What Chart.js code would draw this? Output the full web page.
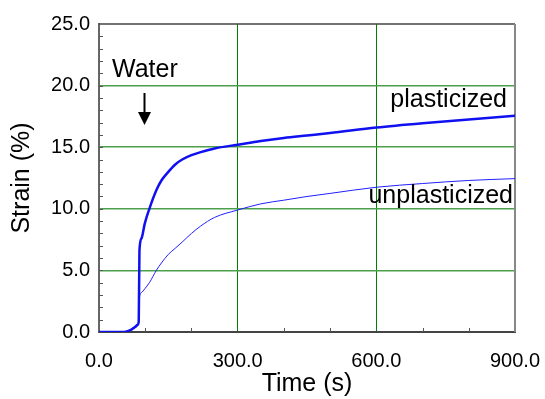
<!DOCTYPE html>
<html>
<head>
<meta charset="utf-8">
<script src="https://cdn.jsdelivr.net/npm/chart.js@4"></script>
<style>
  html, body { margin: 0; padding: 0; background: #fff; }
  #wrap { width: 545px; height: 399px; }
</style>
</head>
<body>
<div id="wrap"><canvas id="c" width="545" height="399"></canvas></div>
<script>
// time (s)
const time = [0, 30, 50, 60, 70, 78, 84, 86, 87.5, 92, 99, 109, 124, 135, 150, 165, 180, 200, 220, 250, 300, 350, 400, 450, 500, 600, 700, 800, 900];
// strain (%)
const plasticized = [0, 0, 0, 0.05, 0.2, 0.4, 0.6, 0.9, 6.6, 7.6, 8.8, 10.0, 11.5, 12.3, 13.0, 13.6, 14.0, 14.35, 14.6, 14.9, 15.2, 15.5, 15.75, 15.95, 16.15, 16.6, 16.95, 17.25, 17.55];
const unplasticized = [0, 0, 0, 0.05, 0.2, 0.4, 0.6, 0.9, 2.8, 3.2, 3.5, 4.0, 5.0, 5.6, 6.3, 6.8, 7.3, 8.0, 8.6, 9.3, 9.9, 10.4, 10.7, 11.0, 11.25, 11.75, 12.05, 12.3, 12.45];

const FONT = "Arial, 'Liberation Sans', sans-serif";

function pts(ys) {
    return time.map((t, i) => ({ x: t, y: ys[i] }));
}

// frame, minor ticks and labels
const extras = {
    id: "extras",
    beforeDatasetsDraw(chart) {
        const ctx = chart.ctx;
        const a = chart.chartArea;
        const xs = chart.scales.x, ys = chart.scales.y;
        ctx.save();
        ctx.strokeStyle = "#555";
        ctx.lineWidth = 1;
        for (let v = 1; v < 25; v++) {
            const y = Math.round(ys.getPixelForValue(v)) + 0.5;
            ctx.beginPath();
            ctx.moveTo(a.left, y);
            ctx.lineTo(a.left + 4, y);
            ctx.stroke();
        }
        for (let v = 100; v < 900; v += 100) {
            if (v % 300 === 0) continue;
            const x = Math.round(xs.getPixelForValue(v)) + 0.5;
            ctx.beginPath();
            ctx.moveTo(x, a.bottom);
            ctx.lineTo(x, a.bottom - 4);
            ctx.stroke();
        }
        // top and right border
        ctx.strokeStyle = "#444";
        ctx.lineWidth = 1.5;
        ctx.beginPath();
        ctx.moveTo(a.left, a.top);
        ctx.lineTo(a.right, a.top);
        ctx.stroke();
        ctx.strokeStyle = "#888";
        ctx.lineWidth = 2;
        ctx.beginPath();
        ctx.moveTo(a.right, a.top);
        ctx.lineTo(a.right, a.bottom);
        ctx.stroke();
        ctx.restore();
    },
    afterDatasetsDraw(chart) {
        const ctx = chart.ctx;
        ctx.save();
        ctx.fillStyle = "#000";
        ctx.font = "25px " + FONT;
        ctx.textBaseline = "alphabetic";
        ctx.textAlign = "left";
        ctx.fillText("Water", 112, 77);
        ctx.textAlign = "right";
        ctx.fillText("plasticized", 507, 107);
        ctx.fillText("unplasticized", 513, 203);
        // arrow
        ctx.strokeStyle = "#000";
        ctx.lineWidth = 2;
        ctx.beginPath();
        ctx.moveTo(144.5, 93);
        ctx.lineTo(144.5, 114);
        ctx.stroke();
        ctx.beginPath();
        ctx.moveTo(138, 112);
        ctx.lineTo(151, 112);
        ctx.lineTo(144.5, 125);
        ctx.closePath();
        ctx.fill();
        ctx.restore();
    }
};

new Chart(document.getElementById("c"), {
    type: "line",
    data: {
        datasets: [
            {
                label: "plasticized",
                data: pts(plasticized),
                borderColor: "#1010f0",
                borderWidth: 2.5,
                pointRadius: 0,
                cubicInterpolationMode: "monotone"
            },
            {
                label: "unplasticized",
                data: pts(unplasticized),
                borderColor: "#2020ff",
                borderWidth: 1,
                pointRadius: 0,
                cubicInterpolationMode: "monotone"
            }
        ]
    },
    options: {
        responsive: false,
        animation: false,
        layout: { padding: { top: 24, right: 30, left: 0, bottom: 0 } },
        plugins: { legend: { display: false }, tooltip: { enabled: false } },
        scales: {
            x: {
                type: "linear",
                min: 0,
                max: 900,
                afterFit: s => { s.height = 67; s.paddingLeft = 0; s.paddingRight = 0; },
                ticks: {
                    stepSize: 300,
                    color: "#000",
                    padding: 17,
                    maxRotation: 0,
                    font: { family: FONT, size: 20 },
                    callback: v => v.toFixed(1)
                },
                grid: {
                    drawTicks: false,
                    color: c => (c.tick && (c.tick.value === 0 || c.tick.value === 900)) ? "rgba(0,0,0,0)" : "#008000",
                    lineWidth: 1
                },
                border: { display: true, color: "#444", width: 2 },
                title: {
                    display: true,
                    text: "Time (s)",
                    color: "#000",
                    padding: 0,
                    font: { family: FONT, size: 25 }
                }
            },
            y: {
                min: 0,
                max: 25,
                afterFit: s => { s.width = 99; s.paddingTop = 0; s.paddingBottom = 0; },
                ticks: {
                    stepSize: 5,
                    color: "#000",
                    padding: 9,
                    font: { family: FONT, size: 20 },
                    callback: v => v.toFixed(1)
                },
                grid: {
                    drawTicks: false,
                    color: c => (c.tick && (c.tick.value === 0 || c.tick.value === 25)) ? "rgba(0,0,0,0)" : "#4c9f4c",
                    lineWidth: 1.5
                },
                border: { display: true, color: "#666", width: 2 },
                title: {
                    display: true,
                    text: "Strain (%)",
                    color: "#000",
                    padding: { top: 7, bottom: 0 },
                    font: { family: FONT, size: 25 }
                }
            }
        }
    },
    plugins: [extras]
});
</script>
</body>
</html>
